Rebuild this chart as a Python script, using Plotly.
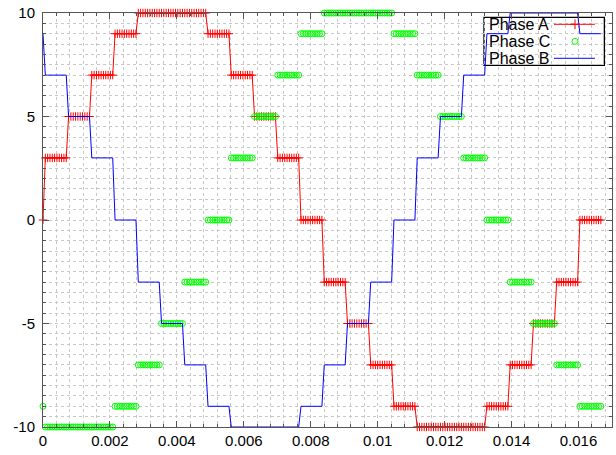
import numpy as np
import plotly.graph_objects as go

# ---- data ----
sample_dt = 1.0 / 14400.0      # time between samples (s)
samples_per_step = 10          # samples held at each quantized level

phase_a_start = 0
phase_a_levels = [3, 5, 7, 9, 10, 10, 10, 9, 7, 5, 3, 0,
                  -3, -5, -7, -9, -10, -10, -10, -9, -7, -5, -3, 0]
phase_b_start = 9
phase_b_levels = [7, 5, 3, 0, -3, -5, -7, -9, -10, -10, -10, -9,
                  -7, -5, -3, 0, 3, 5, 7, 9, 10, 10, 10, 9]
phase_c_start = -9
phase_c_levels = [-10, -10, -10, -9, -7, -5, -3, 0, 3, 5, 7, 9,
                  10, 10, 10, 9, 7, 5, 3, 0, -3, -5, -7, -9]

x_tick_vals = [0, 0.002, 0.004, 0.006, 0.008, 0.01, 0.012, 0.014, 0.016]
x_tick_text = ["0", "0.002", "0.004", "0.006", "0.008", "0.01", "0.012", "0.014", "0.016"]
y_tick_vals = [-10, -5, 0, 5, 10]
y_tick_text = ["-10", "-5", "0", "5", "10"]
legend_labels = ["Phase A", "Phase C", "Phase B"]


def held(start, levels):
    return [start] + [lv for lv in levels for _ in range(samples_per_step)]


t = np.arange(1 + len(phase_a_levels) * samples_per_step) * sample_dt
ya = held(phase_a_start, phase_a_levels)
yb = held(phase_b_start, phase_b_levels)
yc = held(phase_c_start, phase_c_levels)

RED = "#ff0000"
GREEN = "#00ff00"
BLUE = "#0000ff"
GRID = "#c8c8c8"
AXC = "#555555"

fig = go.Figure()
fig.add_trace(go.Scatter(x=t, y=ya, mode="lines+markers", name=legend_labels[0],
                         line=dict(color=RED, width=1),
                         marker=dict(symbol="cross-thin", size=6, line=dict(color=RED, width=1)),
                         cliponaxis=False, showlegend=False))
fig.add_trace(go.Scatter(x=t, y=yc, mode="markers", name=legend_labels[1],
                         marker=dict(symbol="circle-open", size=6, color=GREEN,
                                     line=dict(color=GREEN, width=1)),
                         cliponaxis=False, showlegend=False))
fig.add_trace(go.Scatter(x=t, y=yb, mode="lines", name=legend_labels[2],
                         line=dict(color=BLUE, width=1),
                         cliponaxis=True, showlegend=False))

# legend key samples on an overlay axis pair spanning the plot area (0..1)
key_y = [0.9727, 0.9316, 0.8906]
key_x0, key_x1, key_xm = 0.898, 0.970, 0.935
fig.add_trace(go.Scatter(x=[key_x0, key_x1], y=[key_y[0]] * 2, mode="lines",
                         line=dict(color=RED, width=1), xaxis="x2", yaxis="y2",
                         showlegend=False, hoverinfo="skip"))
fig.add_trace(go.Scatter(x=[key_xm], y=[key_y[0]], mode="markers",
                         marker=dict(symbol="cross-thin", size=7, line=dict(color=RED, width=1)),
                         xaxis="x2", yaxis="y2", showlegend=False, hoverinfo="skip"))
fig.add_trace(go.Scatter(x=[key_xm], y=[key_y[1]], mode="markers",
                         marker=dict(symbol="circle-open", size=6, color=GREEN,
                                     line=dict(color=GREEN, width=1)),
                         xaxis="x2", yaxis="y2", showlegend=False, hoverinfo="skip"))
fig.add_trace(go.Scatter(x=[key_x0, key_x1], y=[key_y[2]] * 2, mode="lines",
                         line=dict(color=BLUE, width=1), xaxis="x2", yaxis="y2",
                         showlegend=False, hoverinfo="skip"))

fig.add_shape(type="rect", xref="paper", yref="paper", x0=0.775, x1=0.9866,
              y0=0.8737, y1=0.9896, fillcolor="white", line=dict(color="black", width=1.3),
              layer="between")
for lbl, yy in zip(legend_labels, key_y):
    fig.add_annotation(text=lbl, xref="paper", yref="paper", x=0.782, y=yy,
                       xanchor="left", yanchor="middle", showarrow=False,
                       borderpad=0, font=dict(size=16, color="black"))

axis_common = dict(showline=True, linecolor=AXC, linewidth=1, mirror="allticks",
                   ticks="inside", tickcolor=AXC, ticklen=6, tickwidth=1,
                   showgrid=True, gridcolor=GRID, griddash="dot", gridwidth=1,
                   zeroline=False, automargin=False, tickfont=dict(size=15, color="black"))

fig.update_layout(
    width=616, height=455,
    margin=dict(l=43, r=4, t=13, b=28),
    paper_bgcolor="white", plot_bgcolor="white",
    font=dict(family="Liberation Sans, Arial, sans-serif", size=14, color="black"),
    showlegend=False,
    xaxis=dict(range=[0, 0.017], tickmode="array", tickvals=x_tick_vals, ticktext=x_tick_text,
               minor=dict(tickmode="linear", tick0=0, dtick=0.0004, ticks="inside", ticklen=3,
                          tickcolor=AXC, showgrid=True, gridcolor=GRID, griddash="dot", gridwidth=1),
               **axis_common),
    yaxis=dict(range=[-10, 10], tickmode="array", tickvals=y_tick_vals, ticktext=y_tick_text,
               ticklabelstandoff=4,
               minor=dict(tickmode="linear", tick0=0, dtick=0.5, ticks="inside", ticklen=3,
                          tickcolor=AXC, showgrid=True, gridcolor=GRID, griddash="dot", gridwidth=1),
               **axis_common),
    xaxis2=dict(overlaying="x", anchor="y2", range=[0, 1], visible=False),
    yaxis2=dict(overlaying="y", anchor="x2", range=[0, 1], visible=False),
)

fig.write_html("out.html", config={"displayModeBar": False},
               post_script="document.body.style.margin='0';document.body.style.overflow='hidden';")
